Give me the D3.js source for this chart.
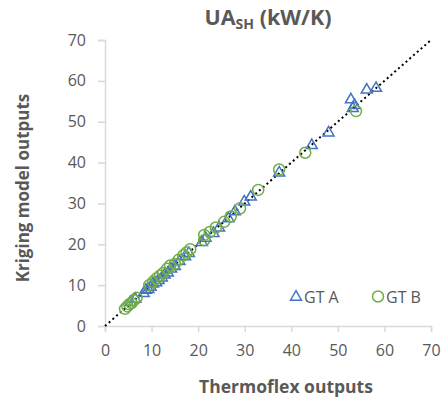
<!DOCTYPE html>
<html>
<head>
<meta charset="utf-8">
<script src="https://cdn.jsdelivr.net/npm/d3@7"></script>
<style>
  body { margin: 0; background: #fff; }
  text { font-family: "Open Sans", "Liberation Sans", sans-serif; fill: #595959; }
</style>
</head>
<body>
<script>
const width = 441;
const height = 402;
const xTicks = [0, 10, 20, 30, 40, 50, 60, 70];
const yTicks = [0, 10, 20, 30, 40, 50, 60, 70];
const colorA = "#4472c4";
const colorB = "#70ad47";

// [Thermoflex output, Kriging output]
const gtA = [
  [5.5, 5.8], [6.5, 6.6], [8.3, 8.0], [8.8, 8.8], [9.3, 9.0], [9.8, 9.5], [10.3, 10.3],
  [11.0, 10.6], [11.5, 11.2], [12.2, 11.8], [12.8, 12.5], [13.5, 13.0], [14.2, 14.0],
  [15.0, 14.6], [16.0, 15.8], [17.2, 17.0], [18.0, 17.8], [20.8, 20.5], [21.6, 21.5],
  [23.3, 22.7], [24.5, 24.0], [26.5, 26.3], [27.9, 28.0], [29.9, 30.4], [31.3, 31.6],
  [37.4, 37.5], [44.4, 44.2], [48.0, 47.3], [52.8, 55.4], [53.2, 53.3], [53.6, 54.0],
  [56.2, 57.8], [58.2, 58.2]
];
const gtB = [
  [4.3, 4.2], [4.8, 4.8], [5.2, 5.3], [5.7, 5.6], [6.2, 6.3], [6.8, 6.9], [9.5, 10.0],
  [10.3, 10.8], [11.0, 11.6], [11.8, 12.3], [12.5, 13.0], [13.3, 14.0], [14.0, 14.8],
  [15.0, 15.2], [15.8, 16.2], [16.8, 17.3], [17.5, 18.0], [18.3, 18.8], [21.3, 21.0],
  [21.3, 22.3], [22.5, 23.0], [23.8, 24.1], [25.6, 25.5], [27.0, 26.8], [29.0, 28.8],
  [32.9, 33.3], [37.4, 38.3], [43.0, 42.4], [53.9, 52.6]
];
const parity = [[0, 0], [70, 70]];

const x = d3.scaleLinear().domain([0, 70]).range([105, 431]);
const y = d3.scaleLinear().domain([0, 70]).range([326, 40]);

const svg = d3.select("body").append("svg")
    .attr("width", width)
    .attr("height", height);

// axes
const xAxis = svg.append("g")
    .attr("transform", `translate(0,${y(0)})`)
    .call(d3.axisBottom(x).tickValues(xTicks).tickSize(6).tickPadding(13));
const yAxis = svg.append("g")
    .attr("transform", `translate(${x(0)},0)`)
    .call(d3.axisLeft(y).tickValues(yTicks).tickSize(7).tickPadding(12));
for (const g of [xAxis, yAxis]) {
  g.select(".domain").attr("stroke", "#d9d9d9").attr("stroke-width", 1.5);
  g.selectAll(".tick line").attr("stroke", "#d9d9d9").attr("stroke-width", 1.5);
  g.selectAll(".tick text").attr("font-size", 16).style("fill", "#595959");
}

// parity line
svg.append("path")
    .attr("fill", "none")
    .attr("stroke", "#000")
    .attr("stroke-width", 2)
    .attr("stroke-dasharray", "2,3")
    .attr("d", d3.line().x(d => x(d[0])).y(d => y(d[1]))(parity));

const tri = d3.symbol().type(d3.symbolTriangle).size(52);

svg.append("g")
    .attr("fill", "none")
    .attr("stroke", colorA)
    .attr("stroke-width", 1.5)
  .selectAll("path")
  .data(gtA)
  .join("path")
    .attr("transform", d => `translate(${x(d[0])},${y(d[1])})`)
    .attr("d", tri);

svg.append("g")
    .attr("fill", "none")
    .attr("stroke", colorB)
    .attr("stroke-width", 1.5)
  .selectAll("circle")
  .data(gtB)
  .join("circle")
    .attr("cx", d => x(d[0]))
    .attr("cy", d => y(d[1]))
    .attr("r", 5.5);

// legend
const legend = svg.append("g").attr("font-size", 16);
legend.append("path")
    .attr("transform", "translate(296,297)")
    .attr("d", tri)
    .attr("fill", "none").attr("stroke", colorA).attr("stroke-width", 1.5);
legend.append("text").attr("x", 304).attr("y", 302.5).text("GT A");
legend.append("circle")
    .attr("cx", 378).attr("cy", 296.5).attr("r", 5.5)
    .attr("fill", "none").attr("stroke", colorB).attr("stroke-width", 1.5);
legend.append("text").attr("x", 386).attr("y", 302.5).text("GT B");

// titles
const title = svg.append("text")
    .attr("x", 268).attr("y", 25)
    .attr("text-anchor", "middle")
    .attr("font-size", 21.5)
    .attr("font-weight", "bold");
title.append("tspan").text("UA");
title.append("tspan").attr("font-size", 14).attr("dy", 4).text("SH");
title.append("tspan").attr("dy", -4).text(" (kW/K)");

svg.append("text")
    .attr("x", 286).attr("y", 393)
    .attr("text-anchor", "middle")
    .attr("font-size", 17.5)
    .attr("font-weight", "bold")
    .text("Thermoflex outputs");

svg.append("text")
    .attr("transform", "translate(29,188) rotate(-90)")
    .attr("text-anchor", "middle")
    .attr("font-size", 17)
    .attr("font-weight", "bold")
    .text("Kriging model outputs");
</script>
</body>
</html>
